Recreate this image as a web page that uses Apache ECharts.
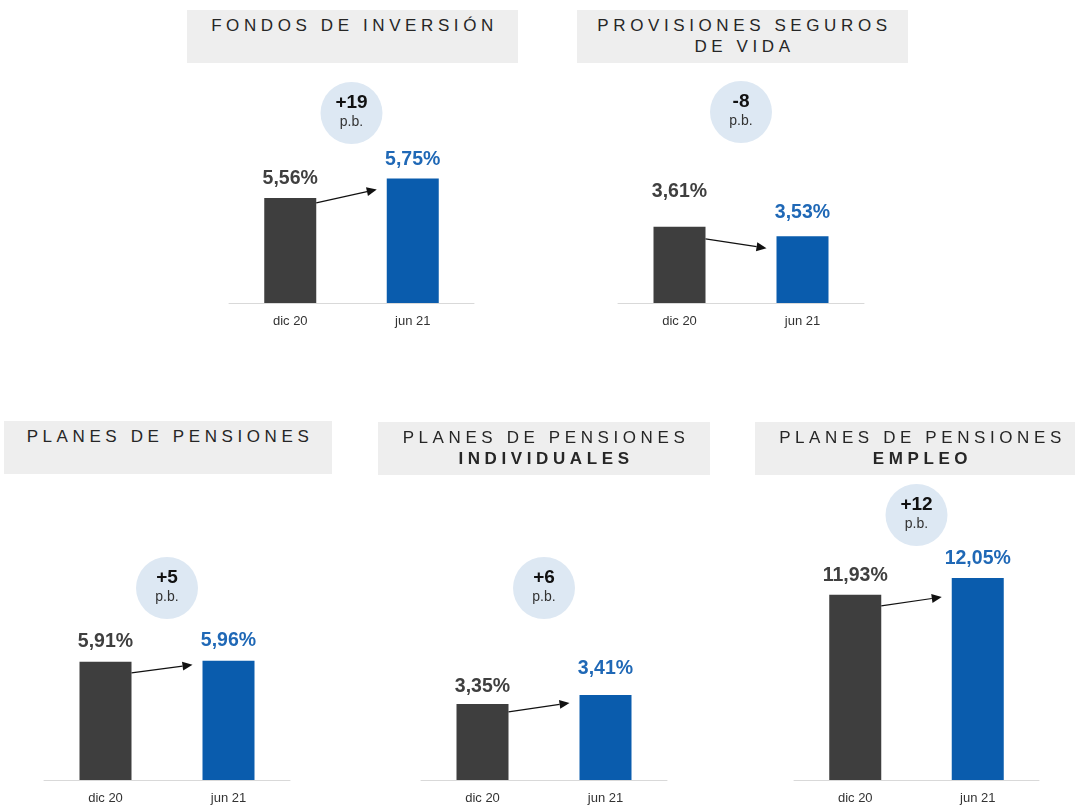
<!DOCTYPE html>
<html>
<head>
<meta charset="utf-8">
<title>Rentabilidad por producto</title>
<script src="https://cdn.jsdelivr.net/npm/echarts@6/dist/echarts.min.js"></script>
<style>
  html, body { margin: 0; padding: 0; background: #fff; overflow: hidden; }
  #wrap { position: relative; width: 1075px; height: 811px; overflow: hidden; }
  #chart { position: absolute; left: 0; top: 0; width: 1075px; height: 811px; }
  .panel-title {
    position: absolute;
    height: 53px;
    box-sizing: border-box;
    padding: 5px 0 0 4px;
    background: #eeeeee;
    color: #262626;
    font-family: 'Liberation Sans', Arial, sans-serif;
    font-size: 17px;
    line-height: 21px;
    letter-spacing: 4.6px;
    text-align: center;
    white-space: nowrap;
  }
  .panel-title b { font-weight: bold; }
</style>
</head>
<body>
<div id="wrap">
  <div id="chart"></div>
</div>
<script>
// datos
const categories = ['dic 20', 'jun 21']
const titles = ['FONDOS DE INVERSIÓN', 'PROVISIONES SEGUROS', 'PLANES DE PENSIONES', 'PLANES DE PENSIONES', 'PLANES DE PENSIONES']
const subtitles = ['', 'DE VIDA', '', 'INDIVIDUALES', 'EMPLEO']
const subtitleBold = [false, false, false, true, true]
const dic20 = [5.56, 3.61, 5.91, 3.35, 11.93]
const jun21 = [5.75, 3.53, 5.96, 3.41, 12.05]
const deltaPb = ['+19', '-8', '+5', '+6', '+12']
// escala de cada eje (no empieza en cero)
const yMin = [4.53, 2.96, 0, 2.843, 10.60]
const yMax = [6.00, 4.24, 7.5, 3.843, 12.18]

// maquetación
const layout = [
  { title: [187, 10, 331], grid: [229, 153, 245, 150], badgeY: 113, gap: [9, 9], arrow: [5, 11] },
  { title: [577, 10, 331], grid: [618, 153, 246, 150], badgeY: 112, gap: [25, 14], arrow: [12, 12] },
  { title: [4, 421, 328], grid: [44, 630, 246, 150], badgeY: 588, gap: [10, 10], arrow: [11, 4] },
  { title: [378, 422, 332], grid: [421, 630, 246, 150], badgeY: 588, gap: [7, 16], arrow: [8, 8] },
  { title: [755, 422, 331], grid: [794, 560, 245, 220], badgeY: 515, gap: [9, 9], arrow: [11, 19] }
]

const DARK = '#3e3e3e'
const BLUE = '#0a5cad'
const BLUE_TEXT = '#1f68b6'
const FONT = "'Liberation Sans', Arial, sans-serif"
const BAR_W = 52

const fmt = v => v.toFixed(2).replace('.', ',') + '%'

// títulos (texto con espaciado entre letras)
const wrap = document.getElementById('wrap')
titles.forEach((t, i) => {
  const [l, top, w] = layout[i].title
  const div = document.createElement('div')
  div.className = 'panel-title'
  div.style.left = l + 'px'
  div.style.top = top + 'px'
  div.style.width = w + 'px'
  div.textContent = t
  if (subtitles[i]) {
    div.appendChild(document.createElement('br'))
    const s = document.createElement(subtitleBold[i] ? 'b' : 'span')
    s.textContent = subtitles[i]
    div.appendChild(s)
  }
  wrap.appendChild(div)
})

const chart = echarts.init(document.getElementById('chart'), null, { renderer: 'canvas' })

const grid = []
const xAxis = []
const yAxis = []
const series = []
const graphic = []

const makeArrow = (dy0, dy1) => (params, api) => {
  const a = api.coord([0, api.value(1)])
  const b = api.coord([1, api.value(3)])
  const x0 = a[0] + BAR_W / 2
  const y0 = a[1] + dy0
  const x1 = b[0] - BAR_W / 2 - 10
  const y1 = b[1] + dy1
  const ang = Math.atan2(y1 - y0, x1 - x0)
  const hl = 10
  const hw = 4.5
  const bx = x1 - hl * Math.cos(ang)
  const by = y1 - hl * Math.sin(ang)
  const nx = -Math.sin(ang) * hw
  const ny = Math.cos(ang) * hw
  return {
    type: 'group',
    children: [
      { type: 'line', shape: { x1: x0, y1: y0, x2: bx, y2: by }, style: { stroke: '#111', lineWidth: 1.2 } },
      { type: 'polygon', shape: { points: [[x1, y1], [bx + nx, by + ny], [bx - nx, by - ny]] }, style: { fill: '#111' } }
    ]
  }
}

layout.forEach((lay, i) => {
  const [left, top, width, height] = lay.grid
  grid.push({ left, top, width, height })
  xAxis.push({
    type: 'category',
    gridIndex: i,
    data: categories,
    axisLine: { lineStyle: { color: '#d9d9d9', width: 1 } },
    axisTick: { show: false },
    axisLabel: { color: '#333', fontSize: 13, fontFamily: FONT, margin: 12 }
  })
  yAxis.push({
    type: 'value',
    gridIndex: i,
    min: yMin[i],
    max: yMax[i],
    show: false
  })
  series.push({
    type: 'bar',
    xAxisIndex: i,
    yAxisIndex: i,
    barWidth: BAR_W,
    silent: true,
    data: [
      {
        value: dic20[i],
        itemStyle: { color: DARK },
        label: { color: '#3f3f3f', distance: lay.gap[0] }
      },
      {
        value: jun21[i],
        itemStyle: { color: BLUE },
        label: { color: BLUE_TEXT, distance: lay.gap[1] }
      }
    ],
    label: {
      show: true,
      position: 'top',
      fontSize: 19.5,
      fontWeight: 'bold',
      fontFamily: FONT,
      formatter: p => fmt(p.value)
    }
  })
  series.push({
    type: 'custom',
    xAxisIndex: i,
    yAxisIndex: i,
    silent: true,
    z: 5,
    encode: { x: [0, 2], y: [1, 3] },
    data: [[0, dic20[i], 1, jun21[i]]],
    renderItem: makeArrow(lay.arrow[0], lay.arrow[1])
  })

  // globo con la variación en puntos básicos
  const cx = left + width / 2
  const cy = lay.badgeY
  graphic.push({
    type: 'group',
    silent: true,
    children: [
      { type: 'circle', shape: { cx, cy, r: 31 }, style: { fill: '#dde8f3' } },
      {
        type: 'text', x: cx, y: cy - 10,
        style: { text: deltaPb[i], fill: '#111', font: `bold 19px ${FONT}`, align: 'center', verticalAlign: 'middle' }
      },
      {
        type: 'text', x: cx, y: cy + 9,
        style: { text: 'p.b.', fill: '#333', font: `14px ${FONT}`, align: 'center', verticalAlign: 'middle' }
      }
    ]
  })
})

chart.setOption({
  backgroundColor: '#fff',
  animation: false,
  grid,
  xAxis,
  yAxis,
  series,
  graphic
})

window.addEventListener('resize', () => chart.resize())
</script>
</body>
</html>
